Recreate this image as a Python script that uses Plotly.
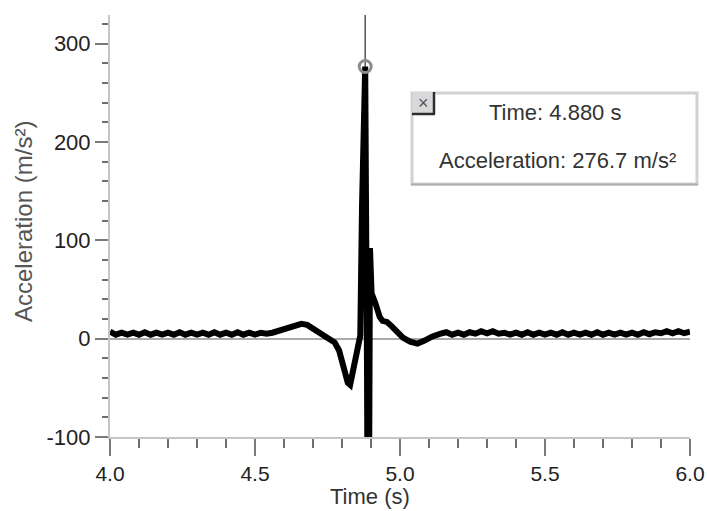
import plotly.graph_objects as go

# ---------------- data ----------------
time_s = [
    4.00, 4.02, 4.04, 4.06, 4.08, 4.10, 4.12, 4.14, 4.16, 4.18, 4.20, 4.22, 4.24, 4.26,
    4.28, 4.30, 4.32, 4.34, 4.36, 4.38, 4.40, 4.42, 4.44, 4.46, 4.48, 4.50, 4.52, 4.54,
    4.56, 4.58, 4.60, 4.62, 4.64, 4.66, 4.68, 4.70, 4.72, 4.74, 4.76, 4.775, 4.79, 4.80,
    4.81, 4.82, 4.828, 4.838, 4.848, 4.858, 4.863, 4.869, 4.880, 4.8885, 4.8935, 4.8965,
    4.902, 4.915, 4.93, 4.94, 4.955, 4.97, 4.99, 5.01, 5.035, 5.06, 5.085, 5.11, 5.14,
    5.16, 5.18, 5.20, 5.22, 5.24, 5.26, 5.28, 5.30, 5.32, 5.34, 5.36, 5.38, 5.40, 5.42,
    5.44, 5.46, 5.48, 5.50, 5.52, 5.54, 5.56, 5.58, 5.60, 5.62, 5.64, 5.66, 5.68, 5.70,
    5.72, 5.74, 5.76, 5.78, 5.80, 5.82, 5.84, 5.86, 5.88, 5.90, 5.92, 5.94, 5.96, 5.98,
    6.00,
]
accel = [
    7, 4, 6, 4, 6, 4, 6.5, 4, 6, 4, 6, 4, 6.5, 4,
    6, 4, 6, 4, 6.5, 4, 6, 4, 6.5, 4, 6, 4, 6, 5,
    6, 8, 10, 12, 14, 15, 14, 10, 6, 3, -1, -4, -12, -22,
    -35, -45, -47, -32, -14, -2, 3, 134, 276.7, -140, -140, 92,
    46, 36, 22, 18, 17, 13, 7, 1, -3, -5, -2, 2, 5,
    6.5, 4, 6, 4, 6.5, 5, 7.5, 5.5, 7.5, 5, 6, 4, 6, 4,
    6.5, 4, 6, 4, 6, 4, 6.5, 4, 6, 4, 6, 4, 6.5, 4,
    6, 4, 6, 4, 6, 4, 6.5, 4.5, 6.5, 5.5, 7.5, 5.5, 7.5, 5.5,
    7,
]

cursor_time = 4.880
cursor_accel = 276.7

x_tickvals = [4.0, 4.5, 5.0, 5.5, 6.0]
x_ticktext = ["4.0", "4.5", "5.0", "5.5", "6.0"]
y_tickvals = [-100, 0, 100, 200, 300]
y_ticktext = ["-100", "0", "100", "200", "300"]

x_title = "Time (s)"
y_title = "Acceleration (m/s²)"

# ---------------- layout helpers ----------------
W, H = 707, 511
PL, PR, PT, PB = 110, 690, 15, 437   # plot area in window pixels


def px(x):
    return (x - PL) / (PR - PL)


def py(y):
    return (PB - y) / (PB - PT)


FONT = "Liberation Sans, Arial, sans-serif"

fig = go.Figure()
fig.add_trace(go.Scatter(
    x=time_s, y=accel, mode="lines",
    line=dict(color="#000000", width=6),
    hoverinfo="skip", showlegend=False,
))
fig.add_trace(go.Scatter(
    x=[cursor_time], y=[cursor_accel], mode="markers",
    marker=dict(symbol="circle-open", size=12, color="#8c8c8c",
                line=dict(color="#8c8c8c", width=3)),
    hoverinfo="skip", showlegend=False,
))

fig.update_layout(
    width=W, height=H, autosize=False,
    margin=dict(l=PL, r=W - PR, t=PT, b=H - PB, pad=0),
    paper_bgcolor="white", plot_bgcolor="white",
    font=dict(family=FONT, color="#222222"),
    showlegend=False,
)

fig.update_xaxes(
    range=[4.0, 6.0], showgrid=False, zeroline=False, automargin=False,
    showline=True, linecolor="#c6c6c6", linewidth=2,
    tickmode="array", tickvals=x_tickvals, ticktext=x_ticktext,
    ticks="outside", ticklen=17, tickwidth=2, tickcolor="#7a7a7a",
    tickfont=dict(family=FONT, size=21, color="#222222"),
    minor=dict(ticks="outside", ticklen=9, tickwidth=2, tickcolor="#6e6e6e",
               dtick=0.1, tick0=4.0, showgrid=False),
)
fig.update_yaxes(
    range=[-100, 329], showgrid=False, automargin=False,
    zeroline=True, zerolinecolor="#ababab", zerolinewidth=2,
    showline=True, linecolor="#c6c6c6", linewidth=2,
    tickmode="array", tickvals=y_tickvals, ticktext=y_ticktext,
    ticks="outside", ticklen=13, tickwidth=2, tickcolor="#7a7a7a",
    tickfont=dict(family=FONT, size=22, color="#222222"),
    minor=dict(ticks="outside", ticklen=6, tickwidth=2, tickcolor="#6e6e6e",
               dtick=20, tick0=0, showgrid=False),
)

shapes = [
    # cursor line
    dict(type="line", xref="x", yref="paper", x0=cursor_time, x1=cursor_time, y0=0, y1=1,
         line=dict(color="#555555", width=1.5), layer="below"),
    # readout box
    dict(type="rect", xref="paper", yref="paper",
         x0=px(412), x1=px(697), y0=py(184), y1=py(93),
         line=dict(color="#d2d2d2", width=3), fillcolor="white", layer="above"),
    dict(type="line", xref="paper", yref="paper",
         x0=px(411), x1=px(698), y0=py(184.5), y1=py(184.5),
         line=dict(color="#adadad", width=2), layer="above"),
    # close icon
    dict(type="rect", xref="paper", yref="paper",
         x0=px(413), x1=px(434), y0=py(113), y1=py(92),
         line=dict(width=0), fillcolor="#d9d9d9", layer="above"),
    dict(type="line", xref="paper", yref="paper",
         x0=px(434), x1=px(434), y0=py(114), y1=py(92),
         line=dict(color="#2e2e2e", width=2.5), layer="above"),
    dict(type="line", xref="paper", yref="paper",
         x0=px(412), x1=px(435), y0=py(114), y1=py(114),
         line=dict(color="#2e2e2e", width=2.5), layer="above"),
]
fig.update_layout(shapes=shapes)

annotations = [
    dict(text=y_title, x=px(23), y=py(222), xref="paper", yref="paper",
         textangle=-90, showarrow=False, xanchor="center", yanchor="middle",
         font=dict(family=FONT, size=24, color="#555555")),
    dict(text=x_title, x=px(370), y=py(497), xref="paper", yref="paper",
         showarrow=False, xanchor="center", yanchor="middle",
         font=dict(family=FONT, size=22, color="#333333")),
    dict(text=f"Time: {cursor_time:.3f} s", x=px(555), y=py(113), xref="paper", yref="paper",
         showarrow=False, xanchor="center", yanchor="middle",
         font=dict(family=FONT, size=22, color="#333333")),
    dict(text=f"Acceleration: {cursor_accel:.1f} m/s²", x=px(557), y=py(160),
         xref="paper", yref="paper",
         showarrow=False, xanchor="center", yanchor="middle",
         font=dict(family=FONT, size=22, color="#333333")),
    dict(text="×", x=px(423.5), y=py(102.5), xref="paper", yref="paper",
         showarrow=False, xanchor="center", yanchor="middle",
         font=dict(family=FONT, size=18, color="#555555")),
]
fig.update_layout(annotations=annotations)

# Remove the page's default 8px body margin so the 707x511 figure fills the window.
fig.write_html("out.html", config={"displayModeBar": False},
               post_script="document.body.style.margin='0';")
